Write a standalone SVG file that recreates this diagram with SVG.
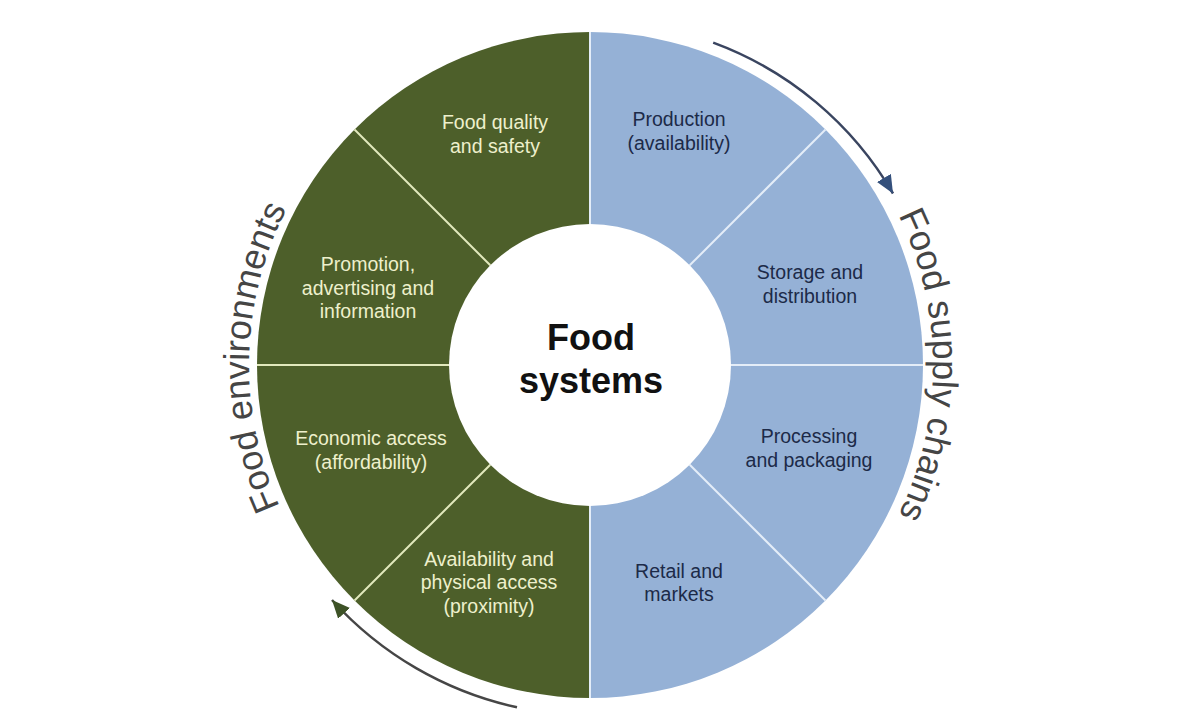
<svg xmlns="http://www.w3.org/2000/svg" width="1200" height="720" viewBox="0 0 1200 720">
  <defs>
    <style>
      .lbl { font-family: "Liberation Sans", Arial, sans-serif; font-size: 19.5px; text-anchor: middle; }
      .env { fill: #eef0cc; }
      .sup { fill: #1c2a48; }
      .ctr { font-family: "Liberation Sans", Arial, sans-serif; font-size: 36px; font-weight: bold; text-anchor: middle; fill: #111111; }
      .outer { font-family: "Liberation Sans", Arial, sans-serif; font-size: 36px; fill: #454545; }
      .divG { stroke: #e2e9bd; stroke-width: 2; }
      .divB { stroke: #e4edf8; stroke-width: 2; }
      .arc { fill: none; stroke-width: 2.5; }
    </style>
    <marker id="headBlue" markerUnits="userSpaceOnUse" markerWidth="20" markerHeight="16" refX="18" refY="8" orient="auto">
      <path d="M0,0 L18,8 L0,16 Z" fill="#34507c"/>
    </marker>
    <marker id="headGreen" markerUnits="userSpaceOnUse" markerWidth="20" markerHeight="16" refX="18" refY="8" orient="auto">
      <path d="M0,0 L18,8 L0,16 Z" fill="#3d5226"/>
    </marker>
    <path id="pathEnv" d="M348.9,606.1 A341,341 0 0 1 348.9,123.9"/>
    <path id="pathSup" d="M832.5,122.5 A343,343 0 0 1 832.5,607.5"/>
  </defs>

  <rect width="1200" height="720" fill="#ffffff"/>

  <g id="wheel">
    <path d="M590,32 A333,333 0 0 0 590,698 Z" fill="#4d5f2a"/>
    <path d="M590,32 A333,333 0 0 1 590,698 Z" fill="#95b1d6"/>
    <line class="divB" x1="590" y1="32" x2="590" y2="698"/>
    <line class="divB" x1="689.7" y1="265.3" x2="825.5" y2="129.5"/>
    <line class="divB" x1="731" y1="365" x2="923" y2="365"/>
    <line class="divB" x1="689.7" y1="464.7" x2="825.5" y2="600.5"/>
    <line class="divG" x1="490.3" y1="265.3" x2="354.5" y2="129.5"/>
    <line class="divG" x1="449" y1="365" x2="257" y2="365"/>
    <line class="divG" x1="490.3" y1="464.7" x2="354.5" y2="600.5"/>
  </g>

  <g id="center">
    <circle cx="590" cy="365" r="141" fill="#ffffff"/>
    <text class="ctr" x="591" y="350">Food</text>
    <text class="ctr" x="591" y="393">systems</text>
  </g>

  <g id="food-quality">
    <text class="lbl env" x="495" y="129">Food quality</text>
    <text class="lbl env" x="495" y="153">and safety</text>
  </g>
  <g id="promotion">
    <text class="lbl env" x="368" y="271">Promotion,</text>
    <text class="lbl env" x="368" y="295">advertising and</text>
    <text class="lbl env" x="368" y="318">information</text>
  </g>
  <g id="economic-access">
    <text class="lbl env" x="371" y="445">Economic access</text>
    <text class="lbl env" x="371" y="469">(affordability)</text>
  </g>
  <g id="availability">
    <text class="lbl env" x="489" y="566">Availability and</text>
    <text class="lbl env" x="489" y="589">physical access</text>
    <text class="lbl env" x="489" y="613">(proximity)</text>
  </g>

  <g id="production">
    <text class="lbl sup" x="679" y="126">Production</text>
    <text class="lbl sup" x="679" y="150">(availability)</text>
  </g>
  <g id="storage">
    <text class="lbl sup" x="810" y="279">Storage and</text>
    <text class="lbl sup" x="810" y="303">distribution</text>
  </g>
  <g id="processing">
    <text class="lbl sup" x="809" y="443">Processing</text>
    <text class="lbl sup" x="809" y="467">and packaging</text>
  </g>
  <g id="retail">
    <text class="lbl sup" x="679" y="578">Retail and</text>
    <text class="lbl sup" x="679" y="601">markets</text>
  </g>

  <g id="outer-labels">
    <text class="outer"><textPath href="#pathEnv" startOffset="51.5%" text-anchor="middle">Food environments</textPath></text>
    <text class="outer"><textPath href="#pathSup" startOffset="50%" text-anchor="middle">Food supply chains</textPath></text>
  </g>

  <g id="connectors">
    <path class="arc" d="M713.2,42.6 A347,347 0 0 1 893,193.5" stroke="#3a4560" marker-end="url(#headBlue)"/>
    <path class="arc" d="M517,707.3 A350,350 0 0 1 332,600" stroke="#464646" marker-end="url(#headGreen)"/>
  </g>
</svg>
